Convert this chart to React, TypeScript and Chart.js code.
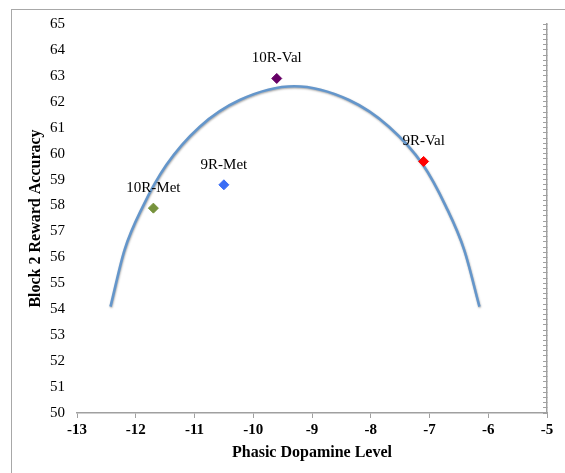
import React, { useEffect, useRef } from "react";
import { Chart, registerables } from "chart.js";

Chart.register(...registerables);

// Scatter points (genotype groups)
const genotypes = ["10R-Met", "9R-Met", "10R-Val", "9R-Val"];
const dopamine = [-11.7, -10.5, -9.6, -7.1];
const accuracy = [57.9, 58.8, 62.9, 59.7];
const pointColors = ["#76923c", "#3a6df5", "#660066", "#ff0000"];

// Inverted-U curve
const curveX = [-12.43, -12.19, -11.88, -11.48, -10.91, -10.23, -9.3, -8.37, -7.69, -7.12, -6.72, -6.41, -6.15];
const curveY = [54.1, 56.29, 57.96, 59.56, 61.04, 62.07, 62.6, 62.07, 61.04, 59.6, 57.96, 56.29, 54.1];

// Axis ranges / ticks
const xMin = -13;
const xMax = -5;
const yMin = 50;
const yMax = 65;

const SERIF = '"Liberation Serif", "Times New Roman", serif';

export default function App() {
  const canvasRef = useRef<HTMLCanvasElement | null>(null);

  useEffect(() => {
    const canvas = canvasRef.current;
    if (!canvas) return;

    const labelPlugin = {
      id: "pointLabels",
      beforeDatasetDraw(chart: any, args: any) {
        if (args.index === 1) {
          const ctx = chart.ctx;
          ctx.save();
          ctx.shadowColor = "rgba(0,0,0,0.35)";
          ctx.shadowBlur = 2;
          ctx.shadowOffsetX = 0.5;
          ctx.shadowOffsetY = 1;
        }
      },
      afterDatasetDraw(chart: any, args: any) {
        if (args.index === 1) {
          chart.ctx.restore();
        }
      },
      afterDatasetsDraw(chart: any) {
        const meta = chart.getDatasetMeta(0);
        const ctx = chart.ctx;
        ctx.save();
        ctx.font = "15px " + SERIF;
        ctx.fillStyle = "#000";
        ctx.textAlign = "center";
        ctx.textBaseline = "middle";
        meta.data.forEach((el: any, i: number) => {
          ctx.fillText(genotypes[i], el.x, el.y - 20);
        });
        ctx.restore();
      },
    };

    const chart = new Chart(canvas, {
      type: "scatter",
      data: {
        datasets: [
          {
            label: "Genotypes",
            data: dopamine.map((x, i) => ({ x, y: accuracy[i] })),
            backgroundColor: pointColors,
            borderColor: pointColors,
            pointStyle: "rectRot",
            pointRadius: 5,
            pointBorderWidth: 1,
            showLine: false,
            order: 0,
          },
          {
            label: "Fit",
            data: curveX.map((x, i) => ({ x, y: curveY[i] })),
            borderColor: "#6496cb",
            backgroundColor: "#6496cb",
            borderWidth: 2.6,
            pointRadius: 0,
            showLine: true,
            cubicInterpolationMode: "monotone",
            order: 1,
          },
        ],
      },
      options: {
        responsive: false,
        animation: false,
        layout: { padding: { top: 24, right: 0, left: 0, bottom: 0 } },
        plugins: {
          legend: { display: false },
          tooltip: { enabled: false },
        },
        scales: {
          x: {
            type: "linear",
            position: "bottom",
            min: xMin,
            max: xMax,
            ticks: {
              stepSize: 1,
              color: "#000",
              padding: 3,
              font: { family: SERIF, size: 15, weight: "bold" },
            },
            grid: {
              drawOnChartArea: false,
              drawTicks: true,
              tickLength: 5,
              color: "#a0a0a0",
            },
            border: { display: true, color: "#a0a0a0", width: 1.5 },
            title: {
              display: true,
              text: "Phasic Dopamine Level",
              color: "#000",
              font: { family: SERIF, size: 16, weight: "bold" },
              padding: { top: 0, bottom: 11 },
            },
            afterFit: (scale: any) => {
              scale.height = 60;
            },
          },
          y: {
            type: "linear",
            position: "left",
            min: yMin,
            max: yMax,
            ticks: {
              stepSize: 1,
              color: "#000",
              padding: 12,
              font: { family: SERIF, size: 15 },
            },
            grid: { display: false, drawTicks: false },
            border: { display: false },
            title: {
              display: true,
              text: "Block 2 Reward Accuracy",
              color: "#000",
              font: { family: SERIF, size: 16, weight: "bold" },
              padding: { top: 26, bottom: 0 },
            },
            afterFit: (scale: any) => {
              scale.width = 77;
            },
          },
          y2: {
            type: "linear",
            position: "right",
            min: yMin,
            max: yMax,
            ticks: {
              display: false,
              stepSize: 0.2,
              autoSkip: false,
            },
            grid: {
              drawOnChartArea: false,
              drawTicks: true,
              tickLength: -4,
              color: "#a0a0a0",
            },
            border: { display: true, color: "#a0a0a0", width: 1.5 },
            afterFit: (scale: any) => {
              scale.width = 18;
            },
          },
        },
      },
      plugins: [labelPlugin],
    } as any);

    return () => {
      chart.destroy();
    };
  }, []);

  return (
    <div
      style={{
        position: "absolute",
        left: 0,
        top: 0,
        width: 565,
        height: 473,
        background: "#fff",
        overflow: "hidden",
      }}
    >
      <div
        style={{
          position: "absolute",
          left: 11,
          top: 9,
          width: 565,
          height: 473,
          borderLeft: "1.5px solid #a8a8a8",
          borderTop: "1.5px solid #a8a8a8",
          boxSizing: "border-box",
        }}
      />
      <canvas
        ref={canvasRef}
        width={565}
        height={473}
        style={{ position: "absolute", left: 0, top: 0, width: 565, height: 473 }}
      />
    </div>
  );
}
